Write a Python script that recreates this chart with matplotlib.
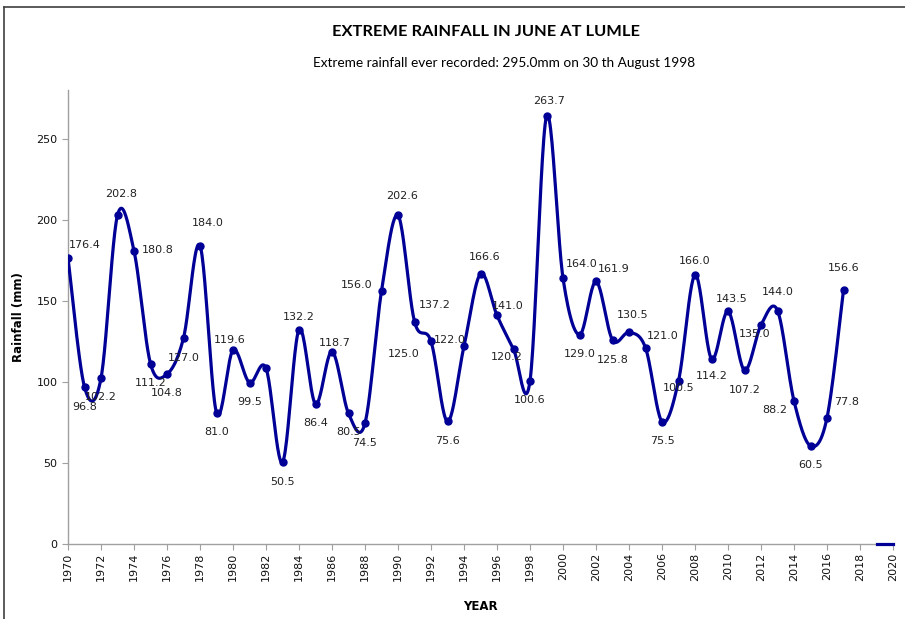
import numpy as np
import matplotlib
matplotlib.use("Agg")
import matplotlib.pyplot as plt
from matplotlib.lines import Line2D

# ---------------- data ----------------
years = list(range(1970, 2018))
rainfall = [176.4, 96.8, 102.2, 202.8, 180.8, 111.2, 104.8, 127.0, 184.0, 81.0,
            119.6, 99.5, 108.4, 50.5, 132.2, 86.4, 118.7, 80.5, 74.5, 156.0,
            202.6, 137.2, 125.0, 75.6, 122.0, 166.6, 141.0, 120.2, 100.6, 263.7,
            164.0, 129.0, 161.9, 125.8, 130.5, 121.0, 75.5, 100.5, 166.0, 114.2,
            143.5, 107.2, 135.0, 144.0, 88.2, 60.5, 77.8, 156.6]
labelled = [True] * len(years)
labelled[years.index(1982)] = False

tail_years = [2019, 2020]
tail_values = [0.0, 0.0]

x_ticks = list(range(1970, 2021, 2))
y_ticks = [0, 50, 100, 150, 200, 250]

title = "EXTREME RAINFALL IN JUNE AT LUMLE"
subtitle = "Extreme rainfall ever recorded: 295.0mm on 30 th August 1998"

# label offsets in pixels (dx, dy up) -- layout only
label_offsets = [(17, 13), (0, -20), (0, -19), (4, 21), (24, 1), (0, -19), (0, -19), (0, -20),
                 (8, 23), (0, -19), (-3, 10), (0, -19), (0, 0), (0, -20), (0, 13), (0, -19),
                 (3, 9), (0, -19), (0, -20), (-25, 6), (4, 19), (20, 17), (-27, -13), (0, -20),
                 (-14, 6), (4, 17), (11, 9), (-7, -8), (0, -19), (3, 15), (19, 14), (0, -19),
                 (18, 12), (0, -20), (4, 17), (17, 12), (0, -19), (0, -7), (0, 14), (0, -17),
                 (4, 12), (0, -20), (-6, -9), (0, 19), (-19, -9), (0, -19), (20, 16), (0, 22)]

COLOR = "#000096"


def smooth(x, y, n=24):
    P = np.column_stack([np.asarray(x, float), np.asarray(y, float)])
    out = [P[0]]
    t = np.linspace(0, 1, n + 1)[1:, None]
    for i in range(len(P) - 1):
        p0 = P[i - 1] if i > 0 else P[i]
        p1, p2 = P[i], P[i + 1]
        p3 = P[i + 2] if i + 2 < len(P) else P[i + 1]
        c1 = p1 + (p2 - p0) / 6.0
        c2 = p2 - (p3 - p1) / 6.0
        seg = (1 - t) ** 3 * p1 + 3 * (1 - t) ** 2 * t * c1 + 3 * (1 - t) * t ** 2 * c2 + t ** 3 * p2
        out.extend(seg)
    return np.array(out)


W, H = 905, 619
fig = plt.figure(figsize=(W / 100, H / 100), dpi=100)
fig.patch.set_facecolor("white")
ax = fig.add_axes([68 / W, (H - 544) / H, (893 - 68) / W, (544 - 90) / H])

curve = smooth(years, rainfall)
ax.plot(curve[:, 0], curve[:, 1], color=COLOR, lw=2.3, solid_capstyle="round", zorder=3)
ax.plot(years, rainfall, ls="none", marker="o", ms=5, color=COLOR, zorder=4)
ax.plot(tail_years, tail_values, color=COLOR, lw=2.3, zorder=3, clip_on=False)

for yr, v, show, (dx, dy) in zip(years, rainfall, labelled, label_offsets):
    if not show:
        continue
    ax.annotate(f"{v:.1f}", (yr, v), xytext=(dx, dy), textcoords="offset pixels",
                ha="center", va="center", fontsize=8, color="#222222", zorder=5)

ax.set_xlim(1970, 2020)
ax.set_ylim(0, 280)
ax.set_xticks(x_ticks)
ax.set_xticklabels([str(v) for v in x_ticks], rotation=90, fontsize=8)
ax.set_yticks(y_ticks)
ax.set_yticklabels([str(v) for v in y_ticks], fontsize=8)
for s in ("top", "right"):
    ax.spines[s].set_visible(False)
for s in ("left", "bottom"):
    ax.spines[s].set_color("#a0a0a0")
    ax.spines[s].set_linewidth(1.0)
ax.tick_params(axis="both", direction="out", length=4, color="#a0a0a0", labelcolor="#111111")
ax.tick_params(axis="x", pad=2)

ax.set_xlabel("YEAR", fontsize=8.5, fontweight="bold", labelpad=14)
ax.set_ylabel("Rainfall (mm)", fontsize=8.5, fontweight="bold", labelpad=8)

fig.text(486 / W, 1 - 32 / H, title, ha="center", va="center", fontsize=11.8,
         fontweight="bold", family="Lato")
fig.text(504 / W, 1 - 63 / H, subtitle, ha="center", va="center", fontsize=9.8,
         family="Lato")

# outer chart frame (cropped on right/bottom)
fig.add_artist(Line2D([4 / W, 4 / W], [0, 1 - 7 / H], color="#404040", lw=1.2))
fig.add_artist(Line2D([4 / W, 1], [1 - 7 / H, 1 - 7 / H], color="#404040", lw=1.2))

fig.savefig("out.png", dpi=100, facecolor="white")
